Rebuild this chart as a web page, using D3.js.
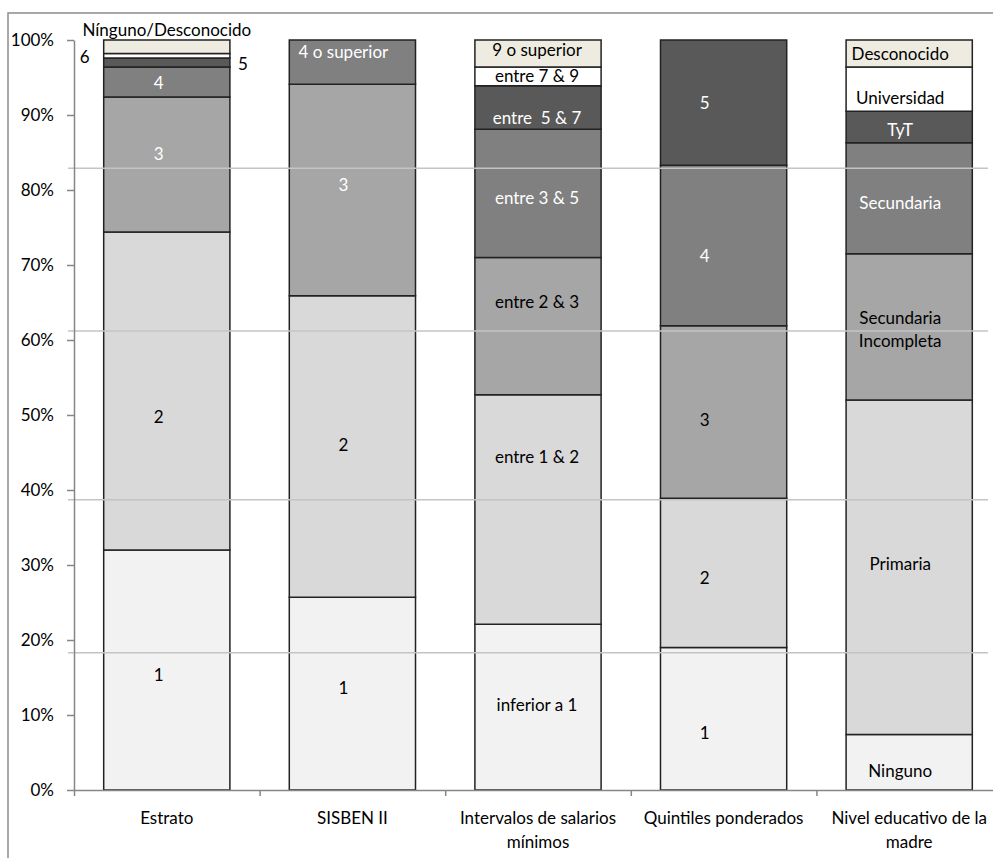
<!DOCTYPE html>
<html>
<head>
<meta charset="utf-8">
<script src="https://cdn.jsdelivr.net/npm/d3@7"></script>
<style>
  body { margin: 0; background: #fff; }
  svg text { font-family: Lato, "Open Sans", sans-serif; }
</style>
</head>
<body>
<svg id="chart" width="993" height="858"></svg>
<script>
const categories = ["Estrato", "SISBEN II", "Intervalos de salarios mínimos", "Quintiles ponderados", "Nivel educativo de la madre"];
const categoryLines = [["Estrato"], ["SISBEN II"], ["Intervalos de salarios", "mínimos"], ["Quintiles ponderados"], ["Nivel educativo de la", "madre"]];

// segment names, bottom to top
const segNames = [
  ["1", "2", "3", "4", "5", "6", "Nínguno/Desconocido"],
  ["1", "2", "3", "4 o superior"],
  ["inferior a 1", "entre 1 & 2", "entre 2 & 3", "entre 3 & 5", "entre  5 & 7", "entre 7 & 9", "9 o superior"],
  ["1", "2", "3", "4", "5"],
  ["Ninguno", "Primaria", "Secundaria\nIncompleta", "Secundaria", "TyT", "Universidad", "Desconocido"]
];
// percentages
const segValues = [
  [32.0, 42.4, 18.0, 4.0, 1.2, 0.6, 1.8],
  [25.7, 40.2, 28.2, 5.9],
  [22.1, 30.6, 18.3, 17.1, 5.8, 2.5, 3.6],
  [19.0, 19.9, 23.0, 21.4, 16.7],
  [7.4, 44.6, 19.5, 14.8, 4.2, 5.9, 3.6]
];
const yTicks = [0, 10, 20, 30, 40, 50, 60, 70, 80, 90, 100];
// light horizontal reference lines drawn across the chart (in %)
const refLines = [82.9, 61.2, 38.7, 18.3];

// where the segment labels sit (in %)
const labelAt = [
  [15.3, 49.7, 84.8, 94.3, 96.8, 97.7, 101.3],
  [13.6, 46.0, 80.7, 98.4],
  [11.3, 44.4, 65.1, 78.9, 89.6, 95.2, 98.7],
  [7.6, 28.3, 49.3, 71.2, 91.6],
  [2.5, 30.1, 61.4, 78.3, 88.0, 92.3, 98.1]
];
const labelShift = [-8, -9, -1, -19, -9];
const whiteLabels = [[2, 3], [2, 3], [3, 4], [3, 4], [3, 4]];
const fills = ["#f2f2f2", "#d9d9d9", "#a6a6a6", "#808080", "#595959", "#ffffff", "#eeece1"];

const svg = d3.select("#chart");
const plotLeft = 74, plotRight = 1002, plotTop = 40, plotBottom = 790;

svg.append("rect")
  .attr("x", 8).attr("y", 13).attr("width", 1010).attr("height", 870)
  .attr("fill", "none").attr("stroke", "#8c8c8c").attr("stroke-width", 1.5);

const x = d3.scaleBand().domain(categories).range([plotLeft, plotRight]).paddingInner(0.32).paddingOuter(0.16);
const xEdge = d3.scaleLinear().domain([0, categories.length]).range([plotLeft, plotRight]);
const y = d3.scaleLinear().domain([0, 100]).range([plotBottom, plotTop]);

// bars
categories.forEach((c, i) => {
  let acc = 0;
  const segs = segValues[i].map((v, j) => {
    const s = { y0: acc, y1: acc + v, j };
    acc += v;
    return s;
  });
  svg.append("g").selectAll("rect").data(segs).join("rect")
    .attr("x", x(c))
    .attr("width", x.bandwidth())
    .attr("y", d => y(d.y1))
    .attr("height", d => y(d.y0) - y(d.y1))
    .attr("fill", d => fills[d.j])
    .attr("stroke", "#222")
    .attr("stroke-width", 1.5);
});

// reference lines over the bars
svg.append("g").selectAll("line").data(refLines).join("line")
  .attr("x1", 68).attr("x2", 988)
  .attr("y1", d => y(d)).attr("y2", d => y(d))
  .attr("stroke", "#c4c4c4").attr("stroke-width", 1.5);

// y axis
const yAxis = svg.append("g")
  .attr("transform", `translate(${plotLeft},0)`)
  .call(d3.axisLeft(y).tickValues(yTicks).tickSize(7).tickSizeOuter(0).tickPadding(13).tickFormat(d => d + "%"));
yAxis.selectAll("path, line").attr("stroke", "#868686").attr("stroke-width", 1.5);
yAxis.selectAll("text").attr("font-size", 17).attr("fill", "#000").attr("font-family", "Lato, sans-serif");

// x axis
const xAxis = svg.append("g")
  .attr("transform", `translate(0,${plotBottom})`)
  .call(d3.axisBottom(xEdge).tickValues(d3.range(categories.length + 1)).tickSize(6).tickSizeOuter(0).tickFormat(""));
xAxis.selectAll("path, line").attr("stroke", "#868686").attr("stroke-width", 1.5);

categories.forEach((c, i) => {
  const t = svg.append("text")
    .attr("x", x(c) + x.bandwidth() / 2)
    .attr("y", 824)
    .attr("text-anchor", "middle")
    .attr("font-size", 17)
    .attr("fill", "#000");
  categoryLines[i].forEach((ln, k) => {
    t.append("tspan").attr("x", x(c) + x.bandwidth() / 2).attr("dy", k === 0 ? 0 : 24).text(ln);
  });
});

// segment labels
categories.forEach((c, i) => {
  const cx = x(c) + x.bandwidth() / 2;
  segNames[i].forEach((name, j) => {
    let lx = cx + labelShift[i], anchor = "middle";
    if (i === 0 && j === 4) { lx = x(c) + x.bandwidth() + 8; anchor = "start"; }
    if (i === 0 && j === 5) { lx = x(c) - 14; anchor = "end"; }
    if (i === 0 && j === 6) { lx = cx; }
    const lines = name.split("\n");
    const t = svg.append("text")
      .attr("text-anchor", anchor)
      .attr("font-size", 17)
      .attr("fill", whiteLabels[i].includes(j) ? "#fff" : "#000")
      .style("white-space", "pre");
    const y0 = y(labelAt[i][j]) - (lines.length - 1) * 23 / 2;
    lines.forEach((ln, k) => {
      t.append("tspan").attr("x", lx).attr("y", y0 + k * 23).attr("dy", "0.35em").text(ln);
    });
  });
});
</script>
</body>
</html>
